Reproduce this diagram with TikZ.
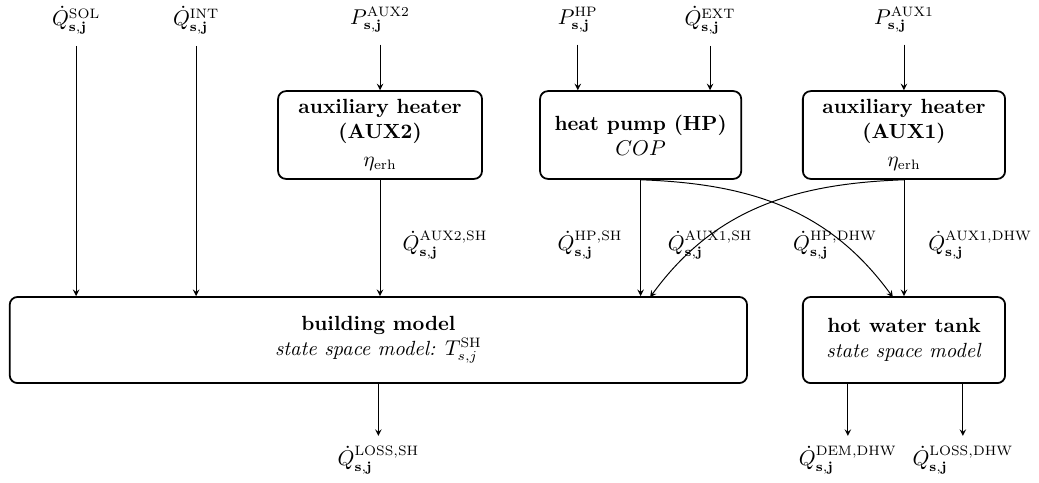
\documentclass[tikz,border=0pt]{standalone}
\usepackage{amsmath}

\begin{document}
\begin{tikzpicture}[
  >=stealth,
  every node/.style={font=\fontsize{10.5}{12.6}\selectfont},
  blk/.style={draw, line width=0.9pt, rounded corners=4pt, align=center,
              minimum height=1.58cm},
  flow/.style={->, line width=0.5pt},
  lbl/.style={inner sep=2pt},
]

\useasboundingbox (0,0) rectangle (18.70,-8.69);

% ===== Generators (top row) ====================================================
\node[blk, minimum width=3.67cm] (aux2) at (6.84,-2.43)
  {\textbf{auxiliary heater}\\\textbf{(AUX2)}\\[2pt]$\eta_{\mathrm{erh}}$};
\node[blk, minimum width=3.62cm] (hp) at (11.53,-2.43)
  {\textbf{heat pump (HP)}\\$COP$};
\node[blk, minimum width=3.64cm] (aux1) at (16.27,-2.43)
  {\textbf{auxiliary heater}\\\textbf{(AUX1)}\\[2pt]$\eta_{\mathrm{erh}}$};

% ===== Storages (bottom row) ===================================================
\node[blk, minimum width=13.27cm, minimum height=1.55cm] (bldg) at (6.81,-6.12)
  {\textbf{building model}\\\textit{state space model: $T^{\mathrm{SH}}_{s,j}$}};
\node[blk, minimum width=3.64cm, minimum height=1.55cm] (tank) at (16.27,-6.12)
  {\textbf{hot water tank}\\\textit{state space model}};

% ===== Inputs ==================================================================
\node[lbl] (qsol)  at (1.37,-0.36)  {$\dot{Q}^{\mathrm{SOL}}_{\mathbf{s,j}}$};
\node[lbl] (qint)  at (3.53,-0.36)  {$\dot{Q}^{\mathrm{INT}}_{\mathbf{s,j}}$};
\node[lbl] (paux2) at (6.84,-0.36)  {$P^{\mathrm{AUX2}}_{\mathbf{s,j}}$};
\node[lbl] (php)   at (10.40,-0.36) {$P^{\mathrm{HP}}_{\mathbf{s,j}}$};
\node[lbl] (qext)  at (12.78,-0.36) {$\dot{Q}^{\mathrm{EXT}}_{\mathbf{s,j}}$};
\node[lbl] (paux1) at (16.27,-0.36) {$P^{\mathrm{AUX1}}_{\mathbf{s,j}}$};

\draw[flow, shorten <=4pt] (qsol.south) -- (qsol.south |- bldg.north);
\draw[flow, shorten <=4pt] (qint.south) -- (qint.south |- bldg.north);
\draw[flow, shorten <=4pt] (paux2.south) -- (aux2.north);
\draw[flow, shorten <=4pt] (php.south) -- (php.south |- hp.north);
\draw[flow, shorten <=4pt] (qext.south) -- (qext.south |- hp.north);
\draw[flow, shorten <=4pt] (paux1.south) -- (aux1.north);

% ===== Heat flows between the rows =============================================
\coordinate (bldgin) at (11.70,-5.35);
\coordinate (tankin) at (16.07,-5.35);

\draw[flow] (aux2.south) -- (aux2.south |- bldg.north);
\draw[flow] (hp.south) -- (hp.south |- bldg.north);
\draw[flow] (aux1.south) -- (aux1.south |- tank.north);
\draw[flow] (hp.south) to[out=-2, in=126] (tankin);
\draw[flow] (aux1.south) to[out=182, in=54] (bldgin);

\node[lbl] (qaux2sh)  at (8.01,-4.41)  {$\dot{Q}^{\mathrm{AUX2,SH}}_{\mathbf{s,j}}$};
\node[lbl] (qhpsh)    at (10.62,-4.41) {$\dot{Q}^{\mathrm{HP,SH}}_{\mathbf{s,j}}$};
\node[lbl] (qaux1sh)  at (12.78,-4.41) {$\dot{Q}^{\mathrm{AUX1,SH}}_{\mathbf{s,j}}$};
\node[lbl] (qhpdhw)   at (15.03,-4.41) {$\dot{Q}^{\mathrm{HP,DHW}}_{\mathbf{s,j}}$};
\node[lbl] (qaux1dhw) at (17.64,-4.41) {$\dot{Q}^{\mathrm{AUX1,DHW}}_{\mathbf{s,j}}$};

% ===== Outputs =================================================================
\node[lbl] (qlosssh)  at (6.81,-8.28)  {$\dot{Q}^{\mathrm{LOSS,SH}}_{\mathbf{s,j}}$};
\node[lbl] (qdemdhw)  at (15.26,-8.28) {$\dot{Q}^{\mathrm{DEM,DHW}}_{\mathbf{s,j}}$};
\node[lbl] (qlossdhw) at (17.33,-8.28) {$\dot{Q}^{\mathrm{LOSS,DHW}}_{\mathbf{s,j}}$};

\draw[flow, shorten >=3pt] (bldg.south) -- (qlosssh.north);
\draw[flow, shorten >=3pt] (qdemdhw.north |- tank.south) -- (qdemdhw.north);
\draw[flow, shorten >=3pt] (qlossdhw.north |- tank.south) -- (qlossdhw.north);

\end{tikzpicture}
\end{document}
